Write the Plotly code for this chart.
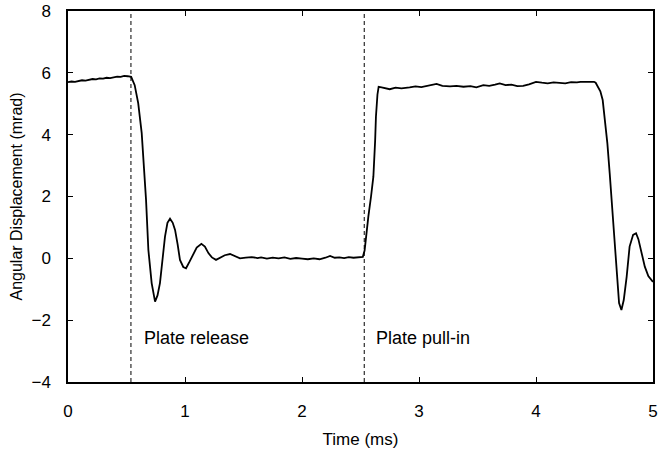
import plotly.graph_objects as go

time_ms = [
    0.00, 0.03, 0.06, 0.09, 0.12, 0.15, 0.18, 0.21, 0.24, 0.27, 0.30, 0.33, 0.36, 0.39,
    0.42, 0.45, 0.48, 0.51, 0.54,
    0.57, 0.60, 0.63, 0.65, 0.667, 0.687, 0.715, 0.744, 0.765, 0.786, 0.81, 0.829, 0.85,
    0.872, 0.895, 0.915, 0.937, 0.957, 0.985, 1.009, 1.04, 1.07, 1.10, 1.14, 1.17, 1.20,
    1.23, 1.265, 1.30, 1.34, 1.385, 1.43, 1.47, 1.52, 1.57, 1.62,
    1.65, 1.70, 1.75, 1.80, 1.85, 1.90, 1.95, 2.00, 2.05, 2.10, 2.15, 2.20, 2.24, 2.28,
    2.32, 2.36, 2.40, 2.44, 2.48, 2.52,
    2.535, 2.55, 2.567, 2.59, 2.61, 2.625, 2.632, 2.645, 2.655, 2.68, 2.72, 2.75, 2.80,
    2.85, 2.92, 2.97, 3.02, 3.07, 3.12, 3.15, 3.20, 3.265, 3.32, 3.38, 3.44, 3.49, 3.55,
    3.60, 3.65, 3.69, 3.74, 3.79, 3.84, 3.89, 3.94, 4.00, 4.05, 4.10, 4.15, 4.20, 4.25,
    4.30, 4.35, 4.38, 4.43, 4.496, 4.51, 4.53, 4.55, 4.57, 4.59, 4.61, 4.63, 4.655,
    4.675, 4.69, 4.71, 4.73, 4.75, 4.775, 4.80, 4.83, 4.855, 4.875, 4.89, 4.93, 4.96,
    4.98, 5.00,
]

displacement_mrad = [
    5.70, 5.72, 5.71, 5.74, 5.76, 5.75, 5.78, 5.80, 5.79, 5.82, 5.81, 5.84, 5.83, 5.86,
    5.88, 5.87, 5.90, 5.89, 5.87,
    5.60, 5.02, 4.05, 3.00, 1.89, 0.27, -0.80, -1.40, -1.20, -0.80, 0.00, 0.70, 1.15,
    1.28, 1.15, 0.92, 0.45, -0.05, -0.28, -0.32, -0.10, 0.11, 0.35, 0.47, 0.38, 0.17,
    0.03, -0.05, 0.02, 0.10, 0.14, 0.07, 0.00, 0.02, 0.04, 0.01,
    0.03, -0.01, 0.02, 0.00, 0.03, -0.02, 0.01, -0.01, -0.03, 0.00, -0.03, 0.02, 0.08, 0.02,
    0.03, 0.01, 0.04, 0.02, 0.04, 0.05,
    0.25, 0.80, 1.35, 2.00, 2.64, 3.80, 4.58, 5.30, 5.55, 5.53, 5.50, 5.47, 5.52,
    5.50, 5.53, 5.56, 5.54, 5.58, 5.60, 5.64, 5.58, 5.56, 5.58, 5.55, 5.57, 5.53, 5.60,
    5.58, 5.62, 5.66, 5.60, 5.62, 5.57, 5.58, 5.63, 5.71, 5.68, 5.66, 5.69, 5.68, 5.66,
    5.70, 5.69, 5.71, 5.70, 5.71, 5.68, 5.55, 5.40, 5.12, 4.50, 3.72, 2.75, 1.35,
    0.38, -0.47, -1.45, -1.67, -1.35, -0.59, 0.38, 0.76, 0.81, 0.62, 0.38, -0.27, -0.57,
    -0.68, -0.76,
]

event_times = [0.538, 2.532]
event_labels = ["Plate release", "Plate pull-in"]
label_x = [0.632, 2.615]
label_y = -2.57

x_ticks = [0, 1, 2, 3, 4, 5]
y_ticks = [-4, -2, 0, 2, 4, 6, 8]
y_tick_text = ["\u22124", "\u22122", "0", "2", "4", "6", "8"]

fig = go.Figure()
fig.add_trace(go.Scatter(
    x=time_ms, y=displacement_mrad, mode="lines",
    line=dict(color="black", width=1.8), showlegend=False,
))

for t in event_times:
    fig.add_shape(type="line", x0=t, x1=t, y0=0, y1=1, xref="x", yref="paper",
                  line=dict(color="black", width=1, dash="4px,3px"))

for lx, txt in zip(label_x, event_labels):
    fig.add_annotation(x=lx, y=label_y, text=txt, showarrow=False,
                       xanchor="left", yanchor="middle",
                       font=dict(size=18, color="black"))

fig.update_layout(
    width=659, height=454,
    margin=dict(l=68, r=6, t=11, b=72, autoexpand=False),
    paper_bgcolor="white", plot_bgcolor="white",
    font=dict(family="Liberation Sans, Arial, sans-serif", color="black"),
)
fig.update_xaxes(
    range=[0, 5], tickvals=x_ticks, ticks="inside", ticklen=5, tickwidth=1,
    tickcolor="black", showline=True, linecolor="black", linewidth=1.5,
    mirror="ticks", showgrid=False, zeroline=False, automargin=False,
    tickfont=dict(size=17), ticklabelstandoff=13, ticklabeloverflow="allow",
    title=dict(text="Time (ms)", font=dict(size=17), standoff=13),
)
fig.update_yaxes(
    range=[-4, 8], tickvals=y_ticks, ticktext=y_tick_text, ticks="inside", ticklen=5,
    tickwidth=1, tickcolor="black", showline=True, linecolor="black", linewidth=1.5,
    mirror="ticks", showgrid=False, zeroline=False, automargin=False,
    tickfont=dict(size=17), ticklabelstandoff=12, ticklabeloverflow="allow",
    title=dict(text="Angular Displacement (mrad)", font=dict(size=16), standoff=5),
)

fig.write_html(
    "out.html",
    config={"displayModeBar": False},
    post_script="document.body.style.margin='0';document.body.style.padding='0';",
)
